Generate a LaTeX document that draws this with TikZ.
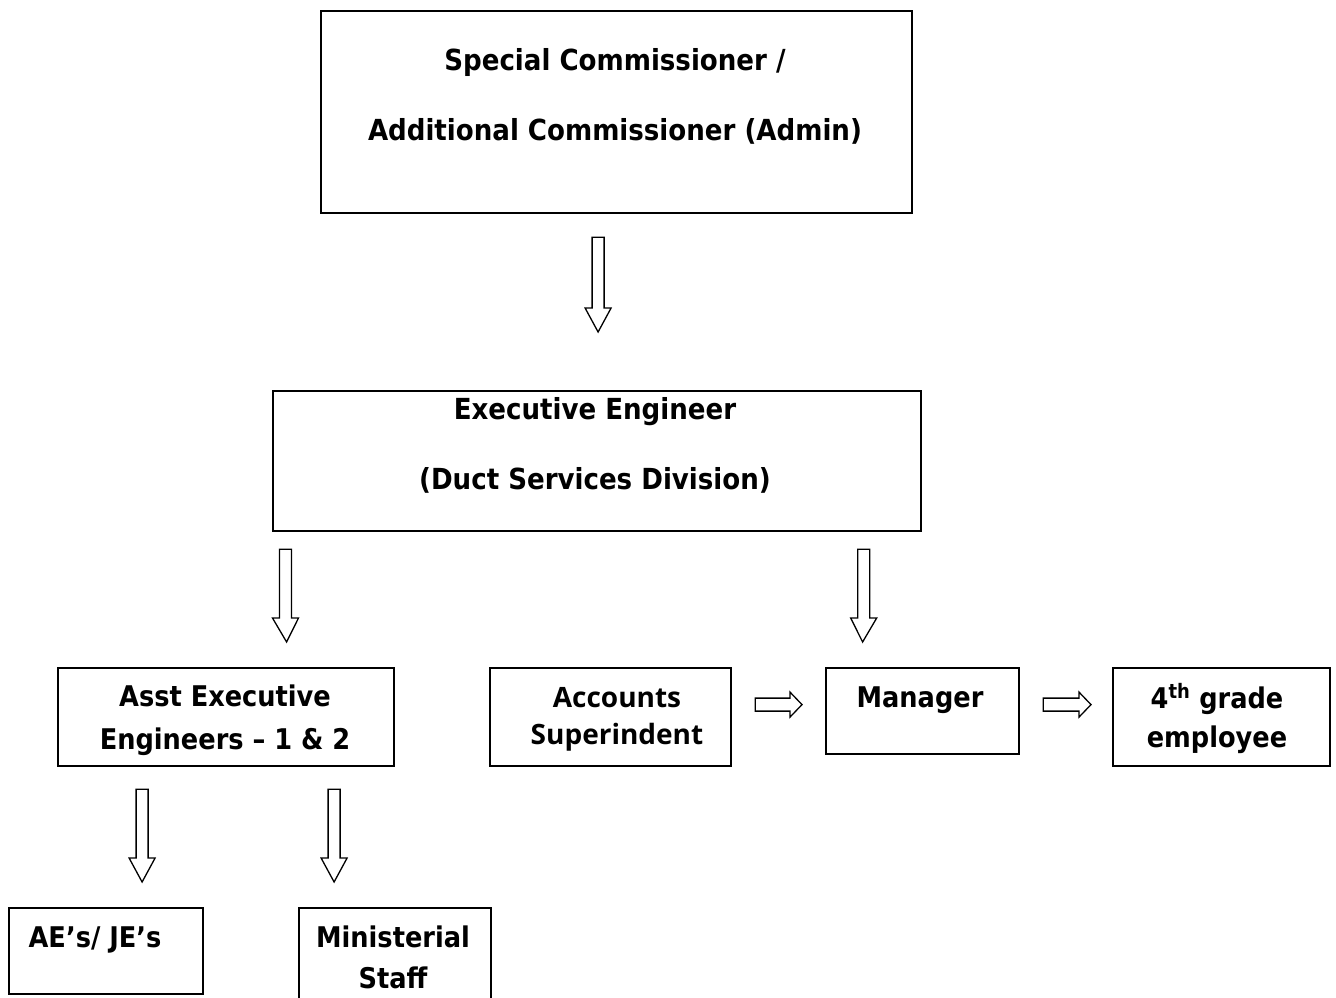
\documentclass[tikz,border=0pt]{standalone}
\usepackage{fontspec}
\setmainfont{DejaVu Sans Condensed}
\newfontfamily\acfont{Open Sans}
\usetikzlibrary{positioning, calc}

\tikzset{
    box/.style={draw, line width=2.2pt, anchor=north west, inner sep=0pt},
    lbl/.style={align=center, inner sep=0pt, anchor=base},
    big/.style={font=\bfseries\fontsize{29}{70}\selectfont},
    small/.style={font=\bfseries\fontsize{28.5}{43}\selectfont},
    % hollow block arrows
    downarr/.style={draw, line width=1.3pt, line join=miter, to path={
        let \p1=(\tikztostart), \p2=(\tikztotarget) in
        (\x1-6pt,\y1) -- (\x1-6pt,\y2+24pt) -- (\x1-13pt,\y2+24pt) -- (\x2,\y2)
        -- (\x1+13pt,\y2+24pt) -- (\x1+6pt,\y2+24pt) -- (\x1+6pt,\y1) -- cycle}},
    rightarr/.style={draw, line width=1.3pt, line join=miter, to path={
        let \p1=(\tikztostart), \p2=(\tikztotarget) in
        (\x1,\y1+6.5pt) -- (\x2-12pt,\y1+6.5pt) -- (\x2-12pt,\y1+12.5pt) -- (\x2,\y2)
        -- (\x2-12pt,\y1-12.5pt) -- (\x2-12pt,\y1-6.5pt) -- (\x1,\y1-6.5pt) -- cycle}}
}

\begin{document}
\begin{tikzpicture}[x=1pt, y=-1pt]
    \useasboundingbox (0,0) rectangle (1336,997);

    % the boxes
    \node (sc)  [box, minimum width=591pt, minimum height=202pt] at (320,10) {};
    \node (ee)  [box, minimum width=648pt, minimum height=140pt] at (272,390) {};
    \node (aee) [box, minimum width=336pt, minimum height=98pt] at (57,667) {};
    \node (acs) [box, minimum width=241pt, minimum height=98pt] at (489,667) {};
    \node (mgr) [box, minimum width=193pt, minimum height=86pt] at (825,667) {};
    \node (g4)  [box, minimum width=217pt, minimum height=98pt] at (1112,667) {};
    \node (aej) [box, minimum width=194pt, minimum height=86pt] at (8,907) {};
    \node (ms)  [box, minimum width=192pt, minimum height=110pt] at (298,907) {};

    % the texts (anchored on the last line)
    \node (sctxt)  [lbl, big] at (615,140) {Special Commissioner /\\Additional Commissioner (Admin)};
    \node (eetxt)  [lbl, big] at (595,489) {Executive Engineer\\(Duct Services Division)};
    \node (aeetxt) [lbl, small] at (225,749) {Asst Executive\\Engineers -- 1 \& 2};
    \node (acstxt) [lbl, font=\acfont\bfseries\fontsize{28}{37}\selectfont] at (617,744) {Accounts\\Superindent};
    \node (mgrtxt) [lbl, small] at (920,707) {Manager};
    \node (g4txt)  [lbl, font=\bfseries\fontsize{28.5}{39}\selectfont] at (1217,747) {4\textsuperscript{th} grade\\employee};
    \node (aejtxt) [lbl, small] at (95,947) {AE’s/ JE’s};
    \node (mstxt)  [lbl, font=\bfseries\fontsize{28.5}{41}\selectfont] at (393,988) {Ministerial\\Staff};

    % arrow ends
    \coordinate (d0s) at ($(sc.south)+(-18.5,23)$);
    \coordinate (d0e) at ($(ee.north)+(1,-58)$);
    \coordinate (d1s) at ($(ee.south west)+(13.5,17)$);
    \coordinate (d1e) at ($(aee.north)+(60.5,-25)$);
    \coordinate (d2s) at ($(ee.south east)+(-58.5,17)$);
    \coordinate (d2e) at ($(mgr.north)+(-60,-25)$);
    \coordinate (d3s) at ($(aee.south)+(-84,22)$);
    \coordinate (d3e) at ($(aej.north)+(36,-25)$);
    \coordinate (d4s) at ($(aee.south)+(108,22)$);
    \coordinate (d4e) at ($(ms.north)+(-61,-25)$);
    \coordinate (r1s) at ($(acs.east)+(23,-12.5)$);
    \coordinate (r1e) at ($(mgr.west)+(-23,-6.5)$);
    \coordinate (r2s) at ($(mgr.east)+(23,-6.5)$);
    \coordinate (r2e) at ($(g4.west)+(-21,-12.5)$);

    % draw the arrows
    \draw [downarr] (d0s) to (d0e);
    \draw [downarr] (d1s) to (d1e);
    \draw [downarr] (d2s) to (d2e);
    \draw [downarr] (d3s) to (d3e);
    \draw [downarr] (d4s) to (d4e);
    \draw [rightarr] (r1s) to (r1e);
    \draw [rightarr] (r2s) to (r2e);
\end{tikzpicture}
\end{document}
